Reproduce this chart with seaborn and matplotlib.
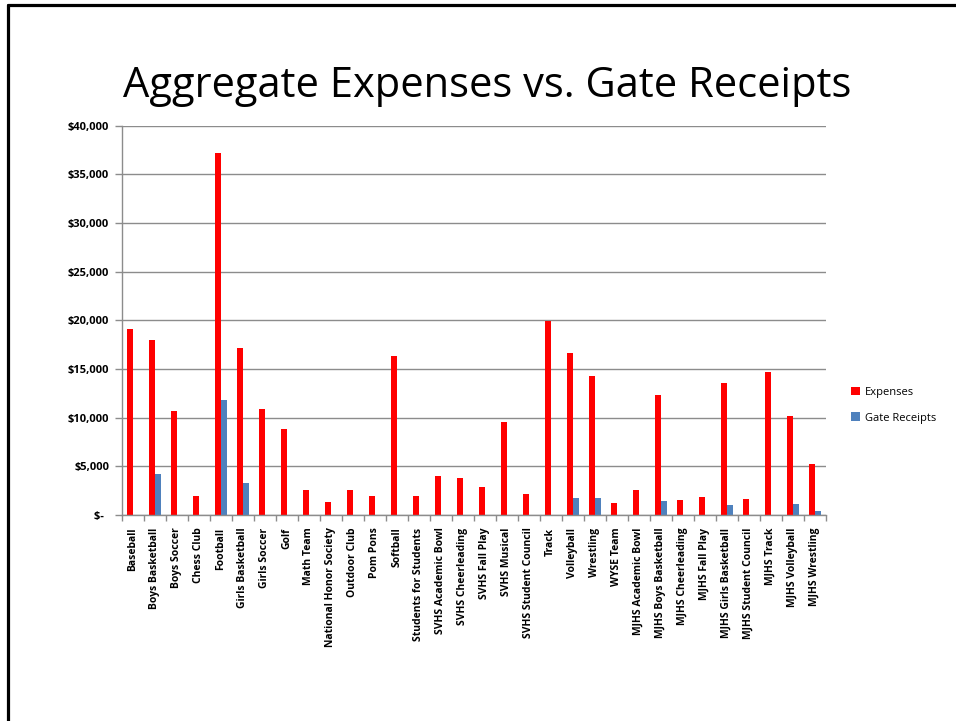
import pandas as pd
import seaborn as sns
import matplotlib.pyplot as plt
from matplotlib.lines import Line2D
from matplotlib.patches import Patch

activities = [
    "Baseball", "Boys Basketball", "Boys Soccer", "Chess Club", "Football",
    "Girls Basketball", "Girls Soccer", "Golf", "Math Team",
    "National Honor Society", "Outdoor Club", "Pom Pons", "Softball",
    "Students for Students", "SVHS Academic Bowl", "SVHS Cheerleading",
    "SVHS Fall Play", "SVHS Musical", "SVHS Student Council", "Track",
    "Volleyball", "Wrestling", "WYSE Team", "MJHS Academic Bowl",
    "MJHS Boys Basketball", "MJHS Cheerleading", "MJHS Fall Play",
    "MJHS Girls Basketball", "MJHS Student Council", "MJHS Track",
    "MJHS Volleyball", "MJHS Wrestling",
]
expenses = [
    19100, 18000, 10700, 2000, 37200, 17200, 10900, 8800, 2600, 1300,
    2600, 2000, 16300, 2000, 4000, 3800, 2900, 9600, 2200, 19900,
    16600, 14300, 1250, 2600, 12300, 1550, 1800, 13600, 1650, 14700,
    10200, 5200,
]
gate_receipts = [
    0, 4200, 0, 0, 11800, 3300, 0, 0, 0, 0,
    0, 0, 0, 0, 0, 0, 0, 0, 0, 0,
    1750, 1750, 0, 0, 1400, 0, 0, 1000, 0, 0,
    1150, 400,
]
series_names = ["Expenses", "Gate Receipts"]
colors = {"Expenses": "#FF0000", "Gate Receipts": "#4F81BD"}
y_ticks = [0, 5000, 10000, 15000, 20000, 25000, 30000, 35000, 40000]
y_labels = ["$-  ", "$5,000", "$10,000", "$15,000", "$20,000",
            "$25,000", "$30,000", "$35,000", "$40,000"]

df = pd.DataFrame({
    "activity": activities * 2,
    "series": [series_names[0]] * len(activities) + [series_names[1]] * len(activities),
    "value": expenses + gate_receipts,
})

sns.set_style("white")
plt.rcParams["font.family"] = ["Open Sans", "DejaVu Sans"]
plt.rcParams["text.color"] = "black"
plt.rcParams["xtick.labelcolor"] = "black"
plt.rcParams["ytick.labelcolor"] = "black"

fig = plt.figure(figsize=(9.56, 7.21), dpi=100)
ax = fig.add_axes([0.1273, 0.2857, 0.7364, 0.54])

sns.barplot(data=df, x="activity", y="value", hue="series", order=activities,
            hue_order=series_names, palette=colors, saturation=1, width=0.545,
            linewidth=0, errorbar=None, ax=ax, legend=False)

ax.set_ylim(0, 40000)
ax.set_xlim(-0.5, len(activities) - 0.5)
ax.set_yticks(y_ticks)
ax.set_yticklabels(y_labels, fontsize=8, fontweight="bold", color="black")
ax.yaxis.grid(True, color="#8c8c8c", linewidth=1)
ax.set_axisbelow(True)
ax.set_xlabel("")
ax.set_ylabel("")

ax.set_xticks(range(len(activities)))
ax.set_xticklabels(activities, rotation=90, fontsize=7.5, fontweight="bold",
                   color="black")
ax.set_xticks([i - 0.5 for i in range(len(activities) + 1)], minor=True)
ax.tick_params(axis="x", which="major", length=0, pad=9)
ax.tick_params(axis="x", which="minor", length=4, color="#8c8c8c", width=1,
               direction="out", bottom=True)
ax.tick_params(axis="y", length=5, color="#8c8c8c", width=1, direction="out",
               left=True, pad=4)

for side in ["top", "right"]:
    ax.spines[side].set_visible(False)
for side in ["left", "bottom"]:
    ax.spines[side].set_color("#8c8c8c")
    ax.spines[side].set_linewidth(1)

fig.text(0.51, 0.865, "Aggregate Expenses vs. Gate Receipts", ha="center",
         va="baseline", fontsize=30, color="black",
         family=["Open Sans", "DejaVu Sans"])

handles = [Patch(facecolor=colors[s], edgecolor="none") for s in series_names]
fig.legend(handles, series_names, loc="center left",
           bbox_to_anchor=(0.880, 0.438), frameon=False, fontsize=8,
           handlelength=0.8, handleheight=0.8, handletextpad=0.4,
           labelspacing=1.3)

# slide border
fig.add_artist(Line2D([8 / 956, 8 / 956], [0, 1 - 5 / 721],
                      transform=fig.transFigure, color="black", linewidth=2.3))
fig.add_artist(Line2D([8 / 956, 1], [1 - 5 / 721, 1 - 5 / 721],
                      transform=fig.transFigure, color="black", linewidth=2.3))

fig.savefig("out.png", dpi=100)
plt.close(fig)
